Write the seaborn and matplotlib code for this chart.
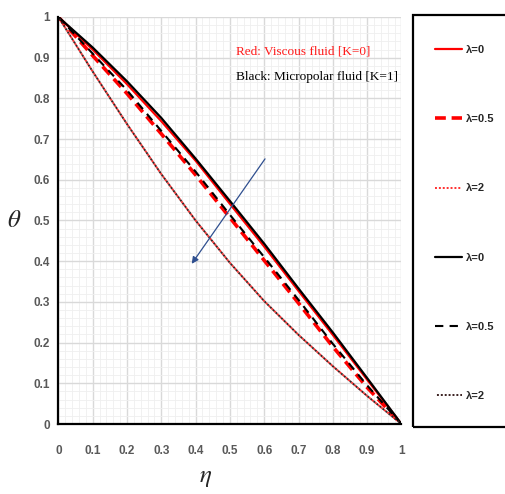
import numpy as np
import pandas as pd
import seaborn as sns
import matplotlib
matplotlib.use("Agg")
import matplotlib.pyplot as plt
from matplotlib.ticker import MultipleLocator
from matplotlib.patches import Rectangle

# ---- data ----
eta = [0.0, 0.1, 0.2, 0.3, 0.4, 0.5, 0.6, 0.7, 0.8, 0.9, 1.0]
# Red: viscous fluid (K=0)
red_l0 = [1.0, 0.920, 0.835, 0.744, 0.647, 0.541, 0.436, 0.327, 0.219, 0.109, 0.0]
red_l05 = [1.0, 0.905, 0.812, 0.713, 0.612, 0.507, 0.402, 0.297, 0.190, 0.090, 0.0]
red_l2 = [1.0, 0.866, 0.737, 0.614, 0.500, 0.396, 0.302, 0.219, 0.142, 0.069, 0.0]
# Black: micropolar fluid (K=1)
blk_l0 = [1.0, 0.925, 0.842, 0.752, 0.652, 0.548, 0.443, 0.333, 0.225, 0.113, 0.0]
blk_l05 = [1.0, 0.910, 0.820, 0.720, 0.620, 0.514, 0.410, 0.305, 0.197, 0.095, 0.0]
blk_l2 = [1.0, 0.866, 0.737, 0.614, 0.500, 0.396, 0.302, 0.219, 0.142, 0.069, 0.0]
labels = ["λ=0", "λ=0.5", "λ=2", "λ=0", "λ=0.5", "λ=2"]
ticks = [0, 0.1, 0.2, 0.3, 0.4, 0.5, 0.6, 0.7, 0.8, 0.9, 1]
tick_labels = ["0", "0.1", "0.2", "0.3", "0.4", "0.5", "0.6", "0.7", "0.8", "0.9", "1"]

sns.set_theme(style="white")
plt.rcParams["font.family"] = ["Liberation Sans", "DejaVu Sans"]
plt.rcParams["mathtext.fontset"] = "stix"

W, H = 506, 494
fig = plt.figure(figsize=(W / 100, H / 100), dpi=100)
ax = fig.add_axes([0.1154, 0.1417, 0.6779, 0.8239])

series = [
    (red_l0, "#ff0000", "-", 1.6),
    (red_l05, "#ff0000", (0, (3, 1.6)), 2.6),
    (red_l2, "#ff3030", (0, (1, 1)), 1.4),
    (blk_l0, "#000000", "-", 1.6),
    (blk_l05, "#000000", (0, (4, 3)), 1.5),
    (blk_l2, "#3a2020", (1, (1, 1)), 1.4),
]
for (vals, col, ls, lw), lab in zip(series, labels):
    df = pd.DataFrame({"eta": eta, "theta": vals})
    sns.lineplot(data=df, x="eta", y="theta", color=col, linestyle=ls,
                 linewidth=lw, label=lab, ax=ax, sort=False, estimator=None)

ax.set_xlim(0, 1)
ax.set_ylim(0, 1)
ax.set_xticks(ticks)
ax.set_xticklabels(tick_labels)
ax.set_yticks(ticks)
ax.set_yticklabels(tick_labels)
ax.xaxis.set_minor_locator(MultipleLocator(0.02))
ax.yaxis.set_minor_locator(MultipleLocator(0.02))
ax.grid(which="major", color="#d9d9d9", linewidth=1.0)
ax.grid(which="minor", color="#efefef", linewidth=0.6)
ax.set_axisbelow(True)
for s in ["top", "right"]:
    ax.spines[s].set_visible(False)
for s in ["left", "bottom"]:
    ax.spines[s].set_color("black")
    ax.spines[s].set_linewidth(1.6)
    ax.spines[s].set_zorder(5)
ax.tick_params(axis="both", which="both", length=0)
ax.tick_params(axis="y", pad=6)
ax.tick_params(axis="x", pad=15)
for t in ax.get_xticklabels() + ax.get_yticklabels():
    t.set_color("#595959")
    t.set_fontweight("bold")
    t.set_fontsize(8.5)

ax.set_xlabel(r"$\eta$", fontsize=18)
ax.set_ylabel(r"$\theta$", fontsize=18, rotation=0, ha="center", va="center")
ax.xaxis.set_label_coords(0.43, -0.10)
ax.yaxis.set_label_coords(-0.129, 0.50)

ax.text(0.518, 0.914, "Red: Viscous fluid [K=0]", color="#ff1a1a",
        fontfamily="Liberation Serif", fontsize=9.5, va="center", ha="left")
ax.text(0.518, 0.853, "Black: Micropolar fluid [K=1]", color="black",
        fontfamily="Liberation Serif", fontsize=9.5, va="center", ha="left")

ax.annotate("", xy=(0.384, 0.388), xytext=(0.607, 0.657),
            arrowprops=dict(arrowstyle="-|>", color="#2f4f8f", lw=0.9,
                            mutation_scale=10))

# legend frame (separate box at the right)
fig.patches.append(Rectangle((413 / W, 1 - 427 / H), 0.3, (427 - 15) / H,
                             transform=fig.transFigure, fill=False,
                             edgecolor="black", linewidth=1.6))

handles, labs = ax.get_legend_handles_labels()
leg = ax.legend(handles, labs, loc="upper left",
                bbox_to_anchor=(413 / W, 1 - 23 / H),
                bbox_transform=fig.transFigure, borderaxespad=0,
                fontsize=8, labelspacing=5.32, handlelength=2.4,
                handletextpad=0.35, borderpad=2.0, frameon=False)
for t in leg.get_texts():
    t.set_fontweight("bold")

fig.savefig("out.png", dpi=100)
